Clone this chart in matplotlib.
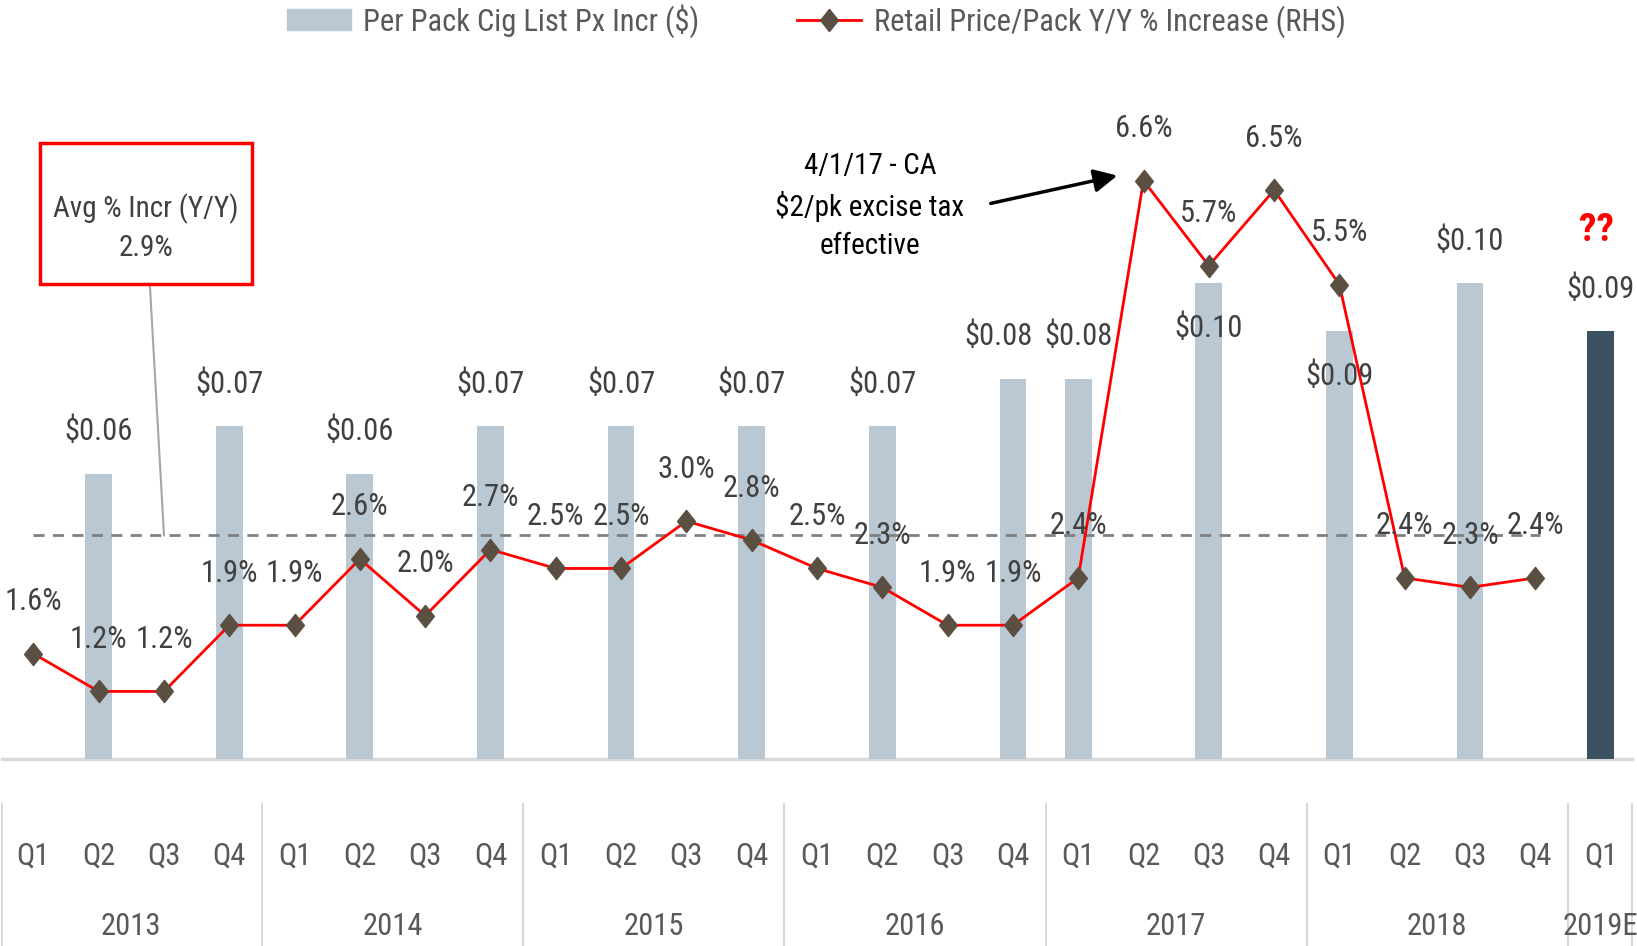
import matplotlib
matplotlib.use("Agg")
from matplotlib import pyplot as plt
from matplotlib import font_manager
from matplotlib.lines import Line2D
from matplotlib.patches import Patch, Rectangle
from matplotlib.path import Path
from matplotlib.transforms import blended_transform_factory
import numpy as np

# pick a narrow face if one is installed (reference uses a Calibri-like font)
installed = {f.name for f in font_manager.fontManager.ttflist}
prefs = [('Liberation Sans Narrow', 23), ('Roboto Condensed', 22),
         ('DejaVu Sans Condensed', 20), ('Lato', 20), ('DejaVu Sans', 18)]
font, fs = next((n, s) for n, s in prefs if n in installed)
plt.rcParams['font.family'] = [font, 'DejaVu Sans']

years = ['2013', '2014', '2015', '2016', '2017', '2018', '2019E']
quarters = ['Q1', 'Q2', 'Q3', 'Q4'] * 6 + ['Q1']

# per pack list price increase ($), None = no increase that quarter
list_px_incr = [None, 0.06, None, 0.07,
                None, 0.06, None, 0.07,
                None, 0.07, None, 0.07,
                None, 0.07, None, 0.08,
                0.08, None, 0.10, None,
                0.09, None, 0.10, None,
                0.09]
# retail price / pack Y/Y % increase
retail_yoy = [1.6, 1.2, 1.2, 1.9,
              1.9, 2.6, 2.0, 2.7,
              2.5, 2.5, 3.0, 2.8,
              2.5, 2.3, 1.9, 1.9,
              2.4, 6.6, 5.7, 6.5,
              5.5, 2.4, 2.3, 2.4]
avg_yoy = 2.85
avg_label = '2.9%'

light_bar = '#b9c8d2'
dark_bar = '#3d5260'
txt = '#404040'
mk_col = '#5b4f42'
diamond = Path([(0, 1), (0.8, 0), (0, -1), (-0.8, 0), (0, 1)],
               [Path.MOVETO, Path.LINETO, Path.LINETO, Path.LINETO, Path.CLOSEPOLY])

fig = plt.figure(figsize=(16.37, 9.46), dpi=100)
ax = fig.add_axes([0, 0.1977, 1, 0.7389])
ax2 = ax.twinx()
ax2.set_position([0, 0.1977, 1, 0.7389])

bx = [i for i, v in enumerate(list_px_incr) if v is not None]
bv = [list_px_incr[i] for i in bx]
colors = [dark_bar if i == len(quarters) - 1 else light_bar for i in bx]
ax.bar(bx, bv, width=0.41, color=colors, zorder=2)

# bar labels: most above, two inside the bar
below = {18, 20}
shift = {15: -14}
for i, v in zip(bx, bv):
    dy = -45 if i in below else 42
    ax.annotate('$%.2f' % v, (i, v), xytext=(shift.get(i, 0), dy),
                textcoords='offset pixels', ha='center', va='center',
                fontsize=fs, color=txt, zorder=5)
ax.annotate('??', (bx[-1], bv[-1]), xytext=(-4, 101), textcoords='offset pixels',
            ha='center', va='center', fontsize=fs + 6, color='#ff0000',
            fontweight='bold', zorder=5)

ax.set_xlim(-0.511, 24.557)
ax.set_ylim(0, 0.147)
ax2.set_ylim(0.486, 7.875)

# retail price line on RHS
lx = np.arange(len(retail_yoy))
ax2.plot(lx, retail_yoy, color='red', lw=2, marker=diamond, ms=16,
         mfc=mk_col, mec=mk_col, zorder=4)
for i, v in zip(lx, retail_yoy):
    ax2.annotate('%.1f%%' % v, (i, v), xytext=(0, 52), textcoords='offset pixels',
                 ha='center', va='center', fontsize=fs, color=txt, zorder=5)

# average dashed line
ax2.plot([0, 23.07], [avg_yoy, avg_yoy], color='#808080', lw=2,
         ls=(0, (4, 3)), zorder=3)
ax2.plot([1.786, 2.0], [5.476, avg_yoy], color='#a6a6a6', lw=1.5, clip_on=False)

for a in (ax, ax2):
    for s in a.spines.values():
        s.set_visible(False)
    a.set_xticks([])
    a.set_yticks([])

# baseline
ax.plot([-0.48, 24.48], [0, 0], color='#d9d9d9', lw=2.5, clip_on=False, zorder=1)

# category axis: quarters and years
tr = blended_transform_factory(ax.transData, fig.transFigure)
for i, q in enumerate(quarters):
    ax.text(i, 0.0951, q, transform=tr, ha='center', va='center',
            fontsize=fs, color='#595959')
for k, yr in enumerate(years):
    mid = 24 if yr == '2019E' else k * 4 + 1.5
    ax.text(mid, 0.0211, yr, transform=tr, ha='center', va='center',
            fontsize=fs, color='#595959')
for sx in [-0.48, 3.5, 7.5, 11.5, 15.5, 19.5, 23.5, 24.48]:
    ax.add_line(Line2D([sx, sx], [0, 0.150], transform=tr, color='#d9d9d9',
                       lw=1.5, clip_on=False))

# average box
fig.patches.append(Rectangle((0.0244, 0.6998), 0.1295, 0.149, transform=fig.transFigure,
                             fill=False, ec='red', lw=2.5))
fig.text(0.0892, 0.759, 'Avg % Incr (Y/Y)\n' + avg_label, ha='center', va='center',
         fontsize=fs - 1, color=txt, linespacing=1.45)

# excise tax callout
ax.annotate('', xy=(1120, 946 - 175), xytext=(988, 946 - 204),
            xycoords='figure pixels', textcoords='figure pixels',
            arrowprops=dict(arrowstyle='-|>', mutation_scale=35, lw=2.5, color='black'))
fig.text(870 / 1637, 1 - 206 / 946, '4/1/17 - CA\n$2/pk excise tax\neffective',
         ha='center', va='center', fontsize=fs - 1, color='black', linespacing=1.45)

handles = [Patch(color=light_bar, label='Per Pack Cig List Px Incr ($)'),
           Line2D([], [], color='red', lw=2, marker=diamond, ms=16, mfc=mk_col,
                  mec=mk_col, label='Retail Price/Pack Y/Y % Increase (RHS)')]
leg = fig.legend(handles=handles, loc='center', bbox_to_anchor=(0.4986, 0.978), ncol=2,
                 frameon=False, fontsize=fs, handlelength=2.1, columnspacing=3.2,
                 handletextpad=0.4)
for t in leg.get_texts():
    t.set_color('#595959')

fig.savefig('out.png', dpi=100)
